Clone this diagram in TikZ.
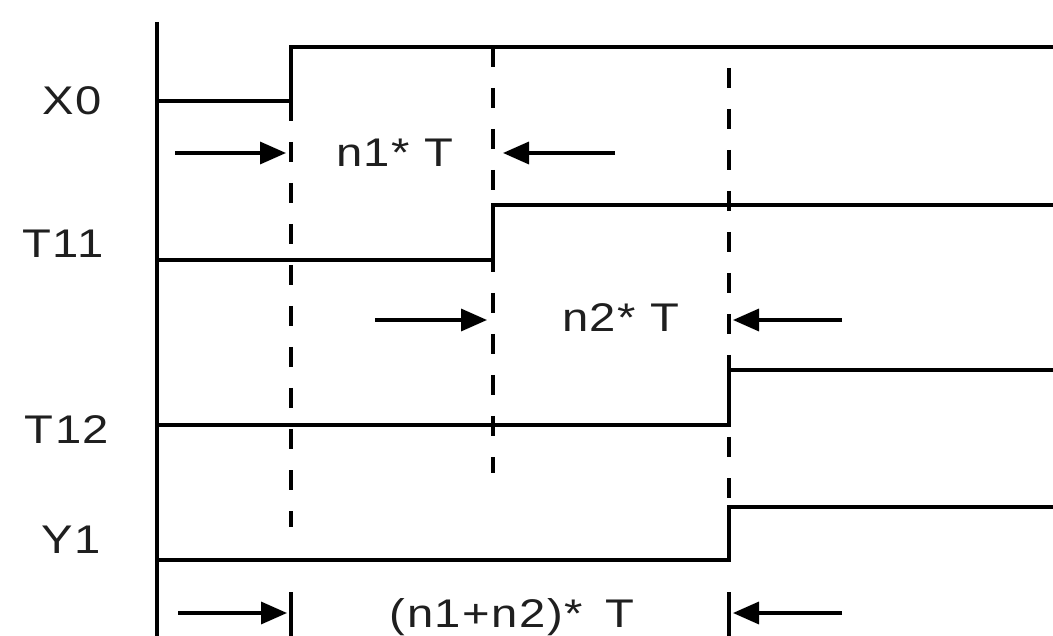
\documentclass[tikz,border=0pt]{standalone}
\usepackage{fontspec}
\newfontfamily\labfont[FakeStretch=1.18,LetterSpace=4]{Liberation Sans}
\usetikzlibrary{arrows.meta}
\begin{document}
\begin{tikzpicture}[x=1pt,y=-1pt,
  sig/.style={line width=3.4pt, line join=miter, draw=black},
  guide/.style={line width=4pt, draw=black, dash pattern=on 20pt off 21pt},
  dim/.style={line width=3.4pt, draw=black, -{Triangle[length=26pt,width=22pt]}},
  lab/.style={font=\labfont\fontsize{40}{48}\selectfont, inner sep=0pt, anchor=base, text=black!88}]
\useasboundingbox (0,0) rectangle (1053,636);
% labels
\node[lab] (x0)  at (72,115) {X0};
\node[lab] (t11) at (63,258) {T11};
\node[lab] (t12) at (67,443) {T12};
\node[lab] (y1)  at (71,553) {Y1};
\node[lab] (d1)  at (395,167) {n1* T};
\node[lab] (d2)  at (621,332) {n2* T};
\node[lab] (d3)  at (512,627) {(n1+n2)*\hspace{22pt}T};
% axis
\coordinate (axtop) at (157,22);
\coordinate (axbot) at (157,636);
\draw[sig] (axtop) -- (axbot);
% signals
\draw[sig] (157,101) -- (291,101) -- (291,47) -- (1053,47);
\draw[sig] (157,260) -- (493,260) -- (493,205) -- (1053,205);
\draw[sig] (157,425) -- (729,425) -- (729,370) -- (1053,370);
\draw[sig] (157,560) -- (729,560) -- (729,507) -- (1053,507);
% dashed guides
\draw[guide] (291,101) -- (291,527);
\draw[guide] (493,47) -- (493,473);
\draw[guide] (729,68) -- (729,507);
% bottom ticks
\coordinate (tk1a) at (291,592); \coordinate (tk1b) at (291,636);
\coordinate (tk2a) at (729,592); \coordinate (tk2b) at (729,636);
\draw[sig] (tk1a) -- (tk1b);
\draw[sig] (tk2a) -- (tk2b);
% dimension arrows
\coordinate (a1s) at (175,153); \coordinate (a1e) at (286,153);
\coordinate (a2s) at (615,153); \coordinate (a2e) at (503,153);
\coordinate (a3s) at (375,320); \coordinate (a3e) at (487,320);
\coordinate (a4s) at (842,320); \coordinate (a4e) at (733,320);
\coordinate (a5s) at (178,613); \coordinate (a5e) at (287,613);
\coordinate (a6s) at (842,613); \coordinate (a6e) at (733,613);
\draw[dim] (a1s) -- (a1e);
\draw[dim] (a2s) -- (a2e);
\draw[dim] (a3s) -- (a3e);
\draw[dim] (a4s) -- (a4e);
\draw[dim] (a5s) -- (a5e);
\draw[dim] (a6s) -- (a6e);
\end{tikzpicture}
\end{document}
